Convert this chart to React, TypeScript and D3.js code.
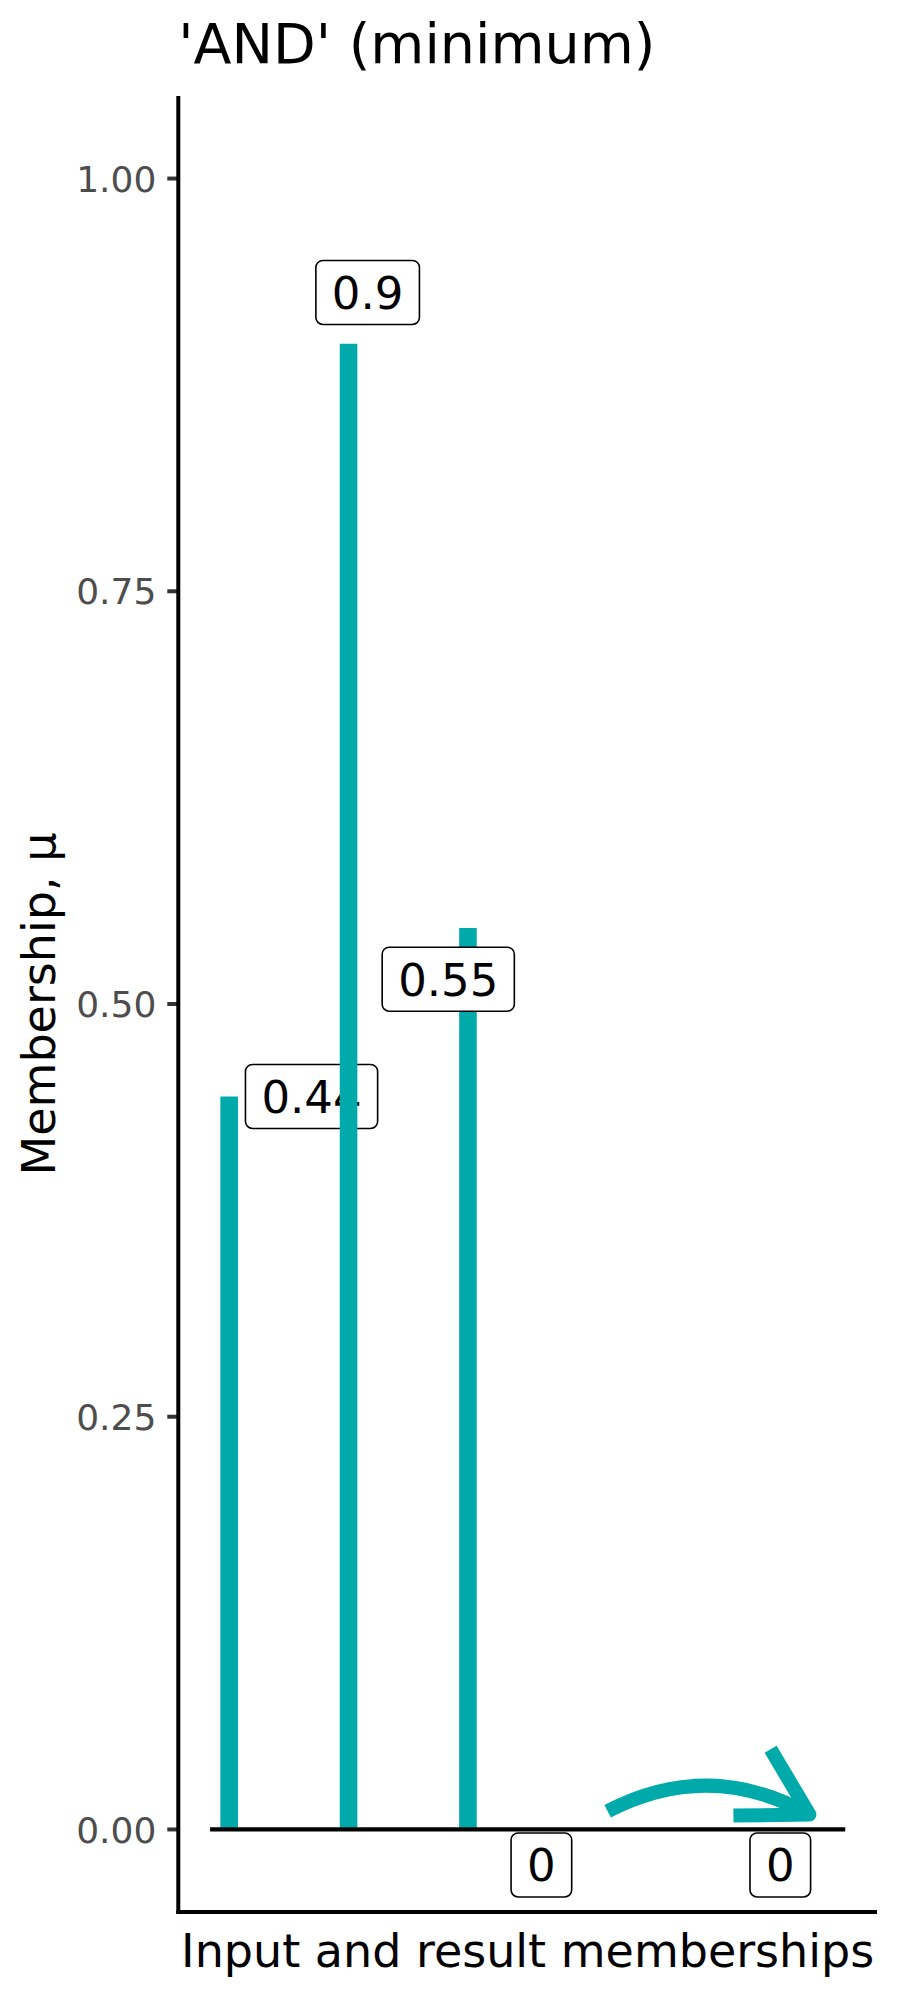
import React from "react";
import * as d3 from "d3";

// ---- data ----
const barX = [1, 2, 3];
const barValues = [0.444, 0.9, 0.546];
const labelValues = [0.444, 0.9, 0.546, 0, 0];
const labelX = [1.69, 2.16, 2.835, 3.615, 5.616];
const labelY = [0.444, 0.931, 0.515, -0.0215, -0.0215];
const baselineX = [0.84, 6.16];
const arrowFrom = [4.17, 0.011];
const arrowTo = [5.86, 0.009];
const arrowCurvature = 0.27;
const yTicks = [0, 0.25, 0.5, 0.75, 1];
const titleText = "'AND' (minimum)";
const xTitle = "Input and result memberships";
const yTitle = "Membership, \u03bc";

const W = 900;
const H = 2000;
const panel = { left: 178.3, right: 877, top: 96, bottom: 1912 };
const TEAL = "#00AAAA";
const FONT = "DejaVu Sans, Verdana, sans-serif";

const span = baselineX[1] - baselineX[0];
const x = d3
  .scaleLinear()
  .domain([baselineX[0] - 0.05 * span, baselineX[1] + 0.05 * span])
  .range([panel.left, panel.right]);
const y = d3.scaleLinear().domain([-0.05, 1.05]).range([panel.bottom, panel.top]);

const fmtLabel = d3.format(".2~f");
const fmtTick = d3.format(".2f");

const LABEL_FS = 45;
const textW = (s: string) =>
  s.split("").reduce((a, c) => a + (c === "." ? 0.318 : 0.636), 0) * LABEL_FS;

function Label({ i }: { i: number }) {
  const s = fmtLabel(labelValues[i]);
  const w = textW(s) + 32;
  const h = 64;
  const cx = x(labelX[i]);
  const cy = y(labelY[i]);
  return (
    <g>
      <rect
        x={cx - w / 2}
        y={cy - h / 2}
        width={w}
        height={h}
        rx={7}
        ry={7}
        fill="white"
        stroke="black"
        strokeWidth={1.6}
      />
      <text
        x={cx}
        y={cy + 0.365 * LABEL_FS}
        textAnchor="middle"
        fontSize={LABEL_FS}
        fontFamily={FONT}
        fill="black"
      >
        {s}
      </text>
    </g>
  );
}

export default function App() {
  // arrow geometry
  const x0 = x(arrowFrom[0]);
  const y0 = y(arrowFrom[1]);
  const x1 = x(arrowTo[0]);
  const y1 = y(arrowTo[1]);
  const mx = (x0 + x1) / 2;
  const my = (y0 + y1) / 2;
  const dx = x1 - x0;
  const dy = y1 - y0;
  const len = Math.hypot(dx, dy);
  const px = dy / len;
  const py = -dx / len;
  const cx = mx + px * arrowCurvature * len;
  const cy = my + py * arrowCurvature * len;
  const path = d3.path();
  path.moveTo(x0, y0);
  path.quadraticCurveTo(cx, cy, x1, y1);
  const ang = Math.atan2(y1 - cy, x1 - cx) + Math.PI;
  const aLen = 76;
  const aAng = (30 * Math.PI) / 180;
  const a1 = [x1 + aLen * Math.cos(ang - aAng), y1 + aLen * Math.sin(ang - aAng)];
  const a2 = [x1 + aLen * Math.cos(ang + aAng), y1 + aLen * Math.sin(ang + aAng)];

  return (
    <svg
      width={W}
      height={H}
      style={{ position: "absolute", left: 0, top: 0, background: "white" }}
    >
      <rect x={0} y={0} width={W} height={H} fill="white" />
      {/* title */}
      <text x={panel.left} y={63} fontSize={55.5} fontFamily={FONT} fill="black">
        {titleText}
      </text>

      {/* y ticks */}
      {yTicks.map((t) => (
        <g key={t}>
          <line
            x1={panel.left - 11}
            x2={panel.left}
            y1={y(t)}
            y2={y(t)}
            stroke="#333333"
            strokeWidth={4}
          />
          <text
            x={panel.left - 22}
            y={y(t) + 0.365 * 36}
            textAnchor="end"
            fontSize={36}
            fontFamily={FONT}
            fill="#4D4D4D"
          >
            {fmtTick(t)}
          </text>
        </g>
      ))}

      {/* bars and labels */}
      {barX.map((bx, i) => (
        <g key={i}>
          <line
            x1={x(bx)}
            x2={x(bx)}
            y1={y(0)}
            y2={y(barValues[i])}
            stroke={TEAL}
            strokeWidth={17.6}
          />
          <Label i={i} />
        </g>
      ))}

      {/* baseline */}
      <line
        x1={x(baselineX[0])}
        x2={x(baselineX[1])}
        y1={y(0)}
        y2={y(0)}
        stroke="black"
        strokeWidth={4.2}
      />

      {/* zero labels */}
      <Label i={3} />
      <Label i={4} />

      {/* arrow */}
      <path d={path.toString()} fill="none" stroke={TEAL} strokeWidth={14} />
      <polyline
        points={`${a1[0]},${a1[1]} ${x1},${y1} ${a2[0]},${a2[1]}`}
        fill="none"
        stroke={TEAL}
        strokeWidth={14}
        strokeLinejoin="round"
      />

      {/* axes */}
      <line
        x1={panel.left}
        x2={panel.left}
        y1={panel.top}
        y2={panel.bottom + 2}
        stroke="black"
        strokeWidth={4}
      />
      <line
        x1={panel.left - 2}
        x2={panel.right}
        y1={panel.bottom}
        y2={panel.bottom}
        stroke="black"
        strokeWidth={4}
      />

      {/* axis titles */}
      <text
        x={(panel.left + panel.right) / 2}
        y={1967}
        textAnchor="middle"
        fontSize={46}
        fontFamily={FONT}
        fill="black"
      >
        {xTitle}
      </text>
      <text
        transform={`translate(55, ${(panel.top + panel.bottom) / 2}) rotate(-90)`}
        textAnchor="middle"
        fontSize={46}
        fontFamily={FONT}
        fill="black"
      >
        {yTitle}
      </text>
    </svg>
  );
}
